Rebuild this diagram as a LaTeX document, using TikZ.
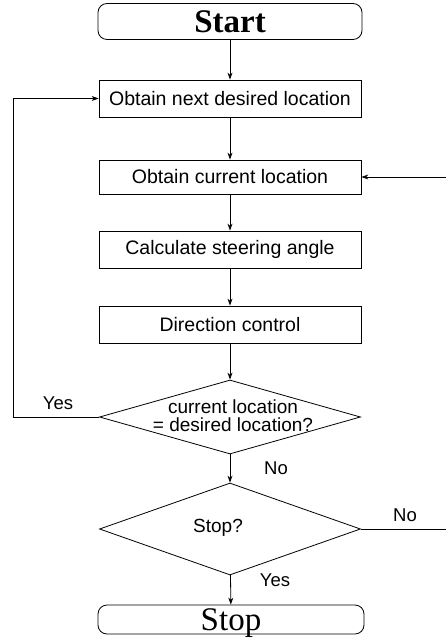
\documentclass[tikz,border=0pt]{standalone}
\usepackage{fontspec}
\setmainfont{Liberation Serif}
\newfontfamily\arialfont{Liberation Sans}
\usetikzlibrary{shapes.geometric,arrows.meta}
\begin{document}
\begin{tikzpicture}[x=1pt,y=-1pt,
  line width=0.8pt,
  proc/.style={draw, rectangle, minimum width=262pt, inner sep=0pt, font=\arialfont\fontsize{19.5}{22}\selectfont},
  term/.style={draw, rectangle, rounded corners=9pt, minimum width=264pt, inner sep=0pt, text depth=0pt},
  decision/.style={draw, diamond, minimum width=261pt, minimum height=74pt, inner sep=0pt},
  dtext/.style={align=center, inner sep=0pt, font=\arialfont\fontsize{19}{18}\selectfont},
  lbl/.style={inner sep=0pt, font=\arialfont\fontsize{18.5}{20}\selectfont},
  arr/.style={-{Stealth[length=7pt,width=5pt]}}
]
\fill[white] (0,0) rectangle (446,644);
\useasboundingbox (0,0) rectangle (446,644);

\node[term, minimum height=36pt, font=\fontsize{33}{36}\selectfont\bfseries] (start) at (230,21.5) {Start};
\node[proc, minimum height=37pt] (b1) at (230,98.5) {Obtain next desired location};
\node[proc, minimum height=34pt] (b2) at (230,177) {Obtain current location};
\node[proc, minimum height=37pt] (b3) at (230,249.5) {Calculate steering angle};
\node[proc, minimum height=37pt] (b4) at (230,324.5) {Direction control};
\node[decision] (d1) at (230,417) {};
\node[dtext] (d1t) at (233,416) {current location\\= desired location?};
\node[decision, minimum height=92pt] (d2) at (230,529) {};
\node[dtext] (d2t) at (218,528) {Stop?};
\node[term, minimum height=29pt, minimum width=266pt, font=\fontsize{33}{36}\selectfont] (stop) at (231,619.5) {Stop};

\node[lbl] (yes1) at (58,403) {Yes};
\node[lbl] (no1) at (276,468) {No};
\node[lbl] (no2) at (405,515) {No};
\node[lbl] (yes2) at (275,580) {Yes};

\coordinate (lc) at (13,98.5);
\coordinate (rtop) at (446,177);
\coordinate (rbot) at (446,529);

\draw[arr] (start) -- (b1);
\draw[arr] (b1) -- (b2);
\draw[arr] (b2) -- (b3);
\draw[arr] (b3) -- (b4);
\draw[arr] (b4) -- (d1);
\draw[arr] (d1) -- (d2);
\draw[arr] (d2) -- (stop);
\draw[arr] (d1.west) -| (lc) -- (b1.west);
\draw[arr] (rtop) -- (b2.east);
\draw (d2.east) -- (rbot);
\end{tikzpicture}
\end{document}
